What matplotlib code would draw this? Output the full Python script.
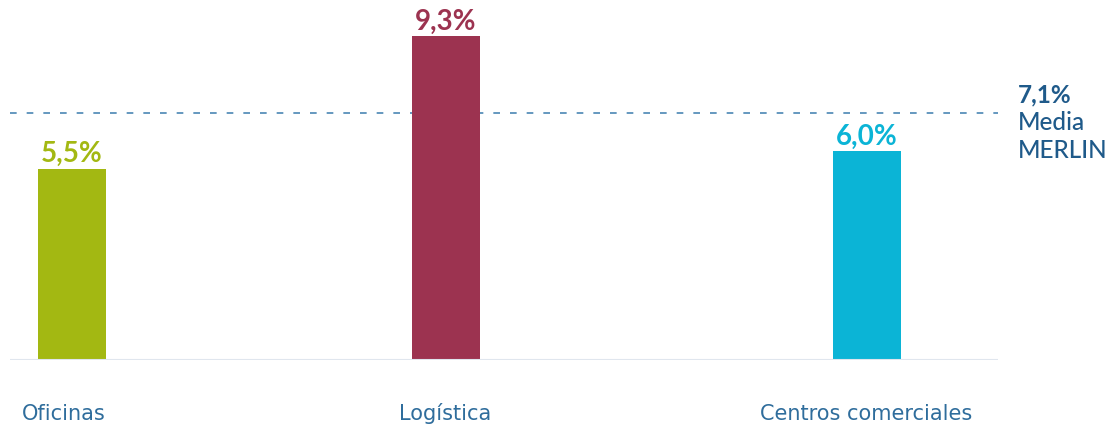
import matplotlib.pyplot as plt

# data
categories = ['Oficinas', 'Logística', 'Centros comerciales']
values = [5.5, 9.3, 6.0]
value_labels = ['5,5%', '9,3%', '6,0%']
average = 7.1
average_label = ['7,1%', 'Media', 'MERLIN']

colors = ['#a3b812', '#9c3350', '#0bb4d6']
positions = [62, 436, 857]
label_pos = [54, 435, 856]

fig = plt.figure(figsize=(11.15, 4.28), dpi=100)
ax = fig.add_axes([10 / 1115, 1 - 360 / 428, 988 / 1115, 348 / 428])
ax.set_xlim(0, 988)
ax.set_ylim(0, 10)

ax.bar(positions, values, width=68, color=colors, zorder=2)

for x, v, lab, c in zip(positions, values, value_labels, colors):
    ax.annotate(lab, (x, v), xytext=(0, 1), textcoords='offset points',
                ha='center', va='bottom', fontsize=20, fontweight='bold',
                color=c, family='Lato')

for x, cat in zip(label_pos, categories):
    ax.text(x, -1.55, cat, ha='center', va='center', fontsize=15,
            color='#2f6d9c', family='DejaVu Sans')

ax.axhline(average, color='#4a86b4', lw=1.2, ls=(0, (4, 6)), zorder=1)
ax.axhline(0, color='#e0e6ee', lw=1.5, zorder=3)

tx = 1018 / 1115
for i, t in enumerate(average_label):
    fig.text(tx, 1 - (95 + 28 * i) / 428, t, ha='left', va='center',
             fontsize=17.5, color='#1f5a8a', family='Lato',
             fontweight='bold' if i == 0 else 'medium')

for s in ax.spines.values():
    s.set_visible(False)
ax.set_xticks([])
ax.set_yticks([])

fig.savefig('out.png', dpi=100)
